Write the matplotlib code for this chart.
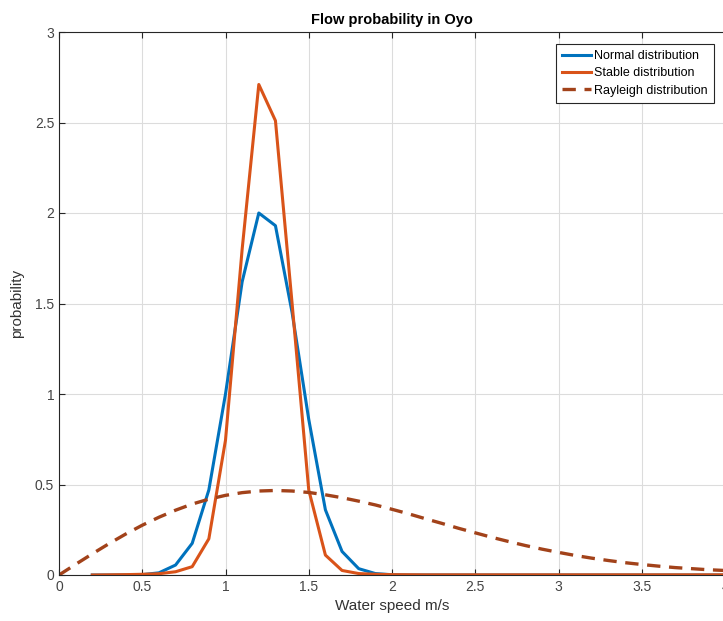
import matplotlib
matplotlib.use("Agg")
import matplotlib.pyplot as plt
import numpy as np

plt.rcParams['font.family'] = ['Liberation Sans', 'DejaVu Sans']

# Water speed samples (m/s) for the fitted normal and stable densities
speed = [0.2, 0.3, 0.4, 0.5, 0.6, 0.7, 0.8, 0.9, 1.0, 1.1, 1.2, 1.3, 1.4,
         1.5, 1.6, 1.7, 1.8, 1.9, 2.0, 2.1, 2.2, 2.3, 2.4, 2.5, 2.6, 2.7,
         2.8, 2.9, 3.0, 3.1, 3.2, 3.3, 3.4, 3.5, 3.6, 3.7, 3.8, 3.9, 4.0]

normal_pdf = [0.0, 0.0, 0.0005, 0.002, 0.012, 0.055, 0.175, 0.47, 1.0, 1.62,
              2.0, 1.93, 1.45, 0.86, 0.36, 0.13, 0.035, 0.008, 0.0015, 0.0,
              0.0, 0.0, 0.0, 0.0, 0.0, 0.0, 0.0, 0.0, 0.0, 0.0, 0.0, 0.0,
              0.0, 0.0, 0.0, 0.0, 0.0, 0.0, 0.0]

stable_pdf = [0.0, 0.001, 0.002, 0.004, 0.007, 0.018, 0.046, 0.20, 0.745,
              1.8, 2.71, 2.51, 1.5, 0.47, 0.11, 0.025, 0.008, 0.004, 0.002,
              0.0015, 0.001, 0.001, 0.001, 0.001, 0.001, 0.001, 0.001, 0.001,
              0.001, 0.001, 0.001, 0.001, 0.001, 0.001, 0.001, 0.001, 0.001,
              0.001, 0.001]

# Rayleigh density sampled over the full speed range
speed_r = [0.0, 0.1, 0.2, 0.3, 0.4, 0.5, 0.6, 0.7, 0.8, 0.9, 1.0, 1.1, 1.2,
           1.3, 1.4, 1.5, 1.6, 1.7, 1.8, 1.9, 2.0, 2.1, 2.2, 2.3, 2.4, 2.5,
           2.6, 2.7, 2.8, 2.9, 3.0, 3.1, 3.2, 3.3, 3.4, 3.5, 3.6, 3.7, 3.8,
           3.9, 4.0]
rayleigh_pdf = [0.0, 0.059, 0.117, 0.173, 0.226, 0.275, 0.319, 0.358, 0.392,
                0.419, 0.440, 0.455, 0.464, 0.467, 0.464, 0.456, 0.443, 0.427,
                0.408, 0.387, 0.363, 0.338, 0.311, 0.285, 0.258, 0.233, 0.208,
                0.185, 0.163, 0.143, 0.125, 0.108, 0.093, 0.080, 0.068, 0.058,
                0.049, 0.041, 0.035, 0.029, 0.025]

x_ticks = [0, 0.5, 1, 1.5, 2, 2.5, 3, 3.5, 4]
x_tick_labels = ['0', '0.5', '1', '1.5', '2', '2.5', '3', '3.5', '4']
y_ticks = [0, 0.5, 1, 1.5, 2, 2.5, 3]
y_tick_labels = ['0', '0.5', '1', '1.5', '2', '2.5', '3']

fig = plt.figure(figsize=(7.23, 6.21), dpi=100)
ax = fig.add_axes([59 / 723, 46 / 621, 666 / 723, 543 / 621])

ax.plot(speed, normal_pdf, color='#0072BD', lw=2.2, label='Normal distribution')
ax.plot(speed, stable_pdf, color='#D95319', lw=2.2, label='Stable distribution')
ax.plot(speed_r, rayleigh_pdf, color='#A2421A', lw=2.4, ls=(0, (4, 2.6)),
        label='Rayleigh distribution')

ax.set_xlim(0, 4)
ax.set_ylim(0, 3)
ax.set_xticks(x_ticks)
ax.set_xticklabels(x_tick_labels)
ax.set_yticks(y_ticks)
ax.set_yticklabels(y_tick_labels)

ax.grid(True, color='#DCDCDC', lw=0.8)
ax.set_axisbelow(True)
ax.tick_params(direction='in', length=4, width=0.8, colors='#262626',
               labelcolor='#444444', labelsize=10, top=True, right=False)
for s in ax.spines.values():
    s.set_color('#262626')
    s.set_linewidth(0.8)

ax.set_title('Flow probability in Oyo', fontsize=10.5, fontweight='bold',
             color='black', pad=6)
ax.set_xlabel('Water speed m/s', fontsize=11, color='#333333', labelpad=4)
ax.set_ylabel('probability', fontsize=11, color='#333333', labelpad=8)

leg = ax.legend(loc='upper right', bbox_to_anchor=(0.984, 0.978), fontsize=9,
                frameon=True, fancybox=False, framealpha=1, borderpad=0.5,
                labelspacing=0.42, handlelength=2.3, handletextpad=0.3,
                borderaxespad=0)
leg.get_frame().set_edgecolor('#262626')
leg.get_frame().set_linewidth(0.8)

fig.savefig('out.png', dpi=100)
